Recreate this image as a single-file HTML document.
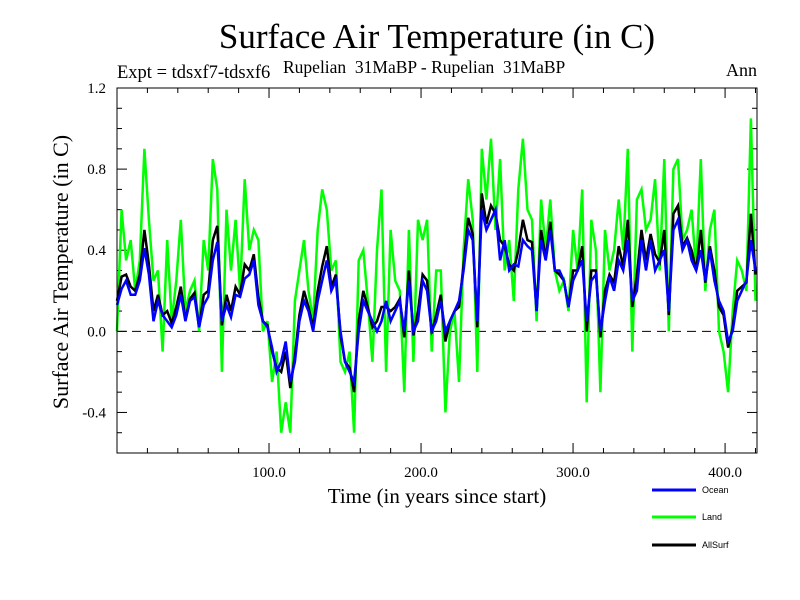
<!DOCTYPE html>
<html><head><meta charset="utf-8"><style>
body{margin:0;background:#fff}
svg{display:block}
text{font-family:"Liberation Serif",serif;fill:#000}
</style></head><body>
<svg id="chart" width="800" height="600" xmlns="http://www.w3.org/2000/svg">
<text x="437" y="48" font-size="35" text-anchor="middle">Surface Air Temperature (in C)</text>
<text x="117" y="78" font-size="18.5">Expt = tdsxf7-tdsxf6</text>
<text x="283" y="73" font-size="17.5" style="white-space:pre">Rupelian  31MaBP - Rupelian  31MaBP</text>
<text x="757" y="76" font-size="18" text-anchor="end">Ann</text>
<text x="437" y="503" font-size="21" text-anchor="middle">Time (in years since start)</text>
<text transform="translate(68,272) rotate(-90)" font-size="22" text-anchor="middle">Surface Air Temperature (in C)</text>
<g id="axes"></g>
<g id="series"></g>
<rect x="117" y="88" width="640" height="365" fill="none" stroke="#000" stroke-width="1"/>
<g>
<line x1="652" y1="490" x2="696" y2="490" stroke="#0000ff" stroke-width="3"/>
<text x="702" y="493" font-size="9" style="font-family:'Liberation Sans',sans-serif">Ocean</text>
<line x1="652" y1="517" x2="696" y2="517" stroke="#00ff00" stroke-width="3"/>
<text x="702" y="520" font-size="9" style="font-family:'Liberation Sans',sans-serif">Land</text>
<line x1="652" y1="545" x2="696" y2="545" stroke="#000" stroke-width="3"/>
<text x="702" y="548" font-size="9" style="font-family:'Liberation Sans',sans-serif">AllSurf</text>
</g>
</svg>
<script>
const years=[];for(let i=0;i<=140;i++)years.push(i*3);
const ocean=[0.13,0.21,0.25,0.18,0.18,0.25,0.41,0.28,0.05,0.15,0.08,0.05,0.02,0.08,0.18,0.05,0.15,0.17,0.02,0.13,0.17,0.35,0.44,0.05,0.13,0.07,0.18,0.17,0.26,0.28,0.35,0.13,0.05,0.02,-0.08,-0.2,-0.15,-0.05,-0.25,-0.15,0.05,0.15,0.1,0.0,0.15,0.25,0.35,0.2,0.25,0.0,-0.15,-0.2,-0.25,0.0,0.15,0.1,0.05,0.0,0.05,0.15,0.05,0.1,0.15,0.0,0.25,0.0,0.05,0.25,0.2,0.0,0.05,0.15,0.0,0.05,0.1,0.15,0.3,0.5,0.45,0.05,0.6,0.5,0.55,0.6,0.35,0.45,0.3,0.33,0.32,0.45,0.42,0.4,0.1,0.45,0.35,0.5,0.3,0.3,0.25,0.12,0.25,0.3,0.35,0.05,0.25,0.28,0.0,0.15,0.27,0.2,0.35,0.3,0.45,0.15,0.2,0.45,0.3,0.45,0.3,0.35,0.4,0.1,0.5,0.55,0.4,0.45,0.35,0.3,0.4,0.25,0.4,0.25,0.15,0.1,-0.05,0.0,0.15,0.2,0.25,0.45,0.3];
const land=[0.0,0.6,0.35,0.45,0.2,0.35,0.9,0.55,0.25,0.3,-0.1,0.45,0.05,0.25,0.55,0.1,0.2,0.25,0.0,0.45,0.3,0.85,0.7,-0.2,0.6,0.3,0.55,0.2,0.75,0.4,0.5,0.45,0.0,0.05,-0.25,-0.1,-0.5,-0.35,-0.5,0.15,0.3,0.45,0.2,0.05,0.5,0.7,0.6,0.3,0.35,-0.15,-0.2,-0.1,-0.5,0.35,0.4,0.15,-0.15,0.4,0.7,-0.2,0.5,0.25,0.2,-0.3,0.5,-0.15,0.55,0.45,0.55,-0.1,0.3,0.3,-0.4,0.0,0.1,-0.25,0.4,0.75,0.55,-0.2,0.9,0.65,0.95,0.5,0.85,0.3,0.45,0.15,0.7,0.95,0.6,0.55,0.05,0.65,0.4,0.65,0.3,0.2,0.25,0.1,0.5,0.3,0.7,-0.35,0.55,0.4,-0.3,0.5,0.3,0.4,0.65,0.4,0.9,-0.1,0.65,0.7,0.5,0.55,0.75,0.3,0.85,0.0,0.8,0.85,0.45,0.5,0.6,0.3,0.85,0.2,0.5,0.6,0.0,-0.1,-0.3,0.1,0.35,0.3,0.2,1.05,0.15];
const allsurf=[0.15,0.27,0.28,0.22,0.2,0.28,0.5,0.33,0.1,0.18,0.08,0.1,0.04,0.12,0.22,0.06,0.16,0.19,0.02,0.18,0.2,0.45,0.52,0.03,0.18,0.1,0.22,0.18,0.33,0.3,0.38,0.17,0.05,0.03,-0.1,-0.18,-0.2,-0.1,-0.28,-0.12,0.08,0.2,0.12,0.02,0.2,0.32,0.42,0.22,0.28,-0.02,-0.15,-0.18,-0.3,0.05,0.2,0.12,0.02,0.05,0.12,0.12,0.1,0.12,0.16,-0.03,0.3,-0.02,0.1,0.28,0.25,-0.01,0.08,0.18,-0.05,0.05,0.1,0.12,0.33,0.56,0.48,0.02,0.68,0.53,0.62,0.58,0.45,0.42,0.33,0.3,0.4,0.55,0.45,0.44,0.1,0.5,0.36,0.54,0.3,0.28,0.25,0.12,0.3,0.3,0.42,0.0,0.3,0.3,-0.03,0.2,0.28,0.24,0.42,0.32,0.55,0.12,0.28,0.5,0.35,0.48,0.38,0.34,0.5,0.08,0.58,0.62,0.42,0.46,0.4,0.3,0.5,0.24,0.42,0.3,0.12,0.08,-0.08,0.02,0.2,0.22,0.24,0.58,0.28];
const xTicks=[100,200,300,400];
const yTicks=[-0.4,0.0,0.4,0.8,1.2];
const NS="http://www.w3.org/2000/svg";
const X0=117,X1=757,Y0=88,Y1=453,xmin=0,xmax=421,ymin=-0.6,ymax=1.2;
const sx=v=>X0+(v-xmin)/(xmax-xmin)*(X1-X0);
const sy=v=>Y1-(v-ymin)/(ymax-ymin)*(Y1-Y0);
const axes=document.getElementById('axes'),ser=document.getElementById('series');
function mk(tag,at,parent){const e=document.createElementNS(NS,tag);for(const k in at)e.setAttribute(k,at[k]);parent.appendChild(e);return e;}
for(let v=-0.6;v<=1.2001;v+=0.1){const y=sy(v);const maj=Math.abs(Math.round(v*10)%4)==0;const L=maj?10:5;
const t1=mk('line',{x1:X0,y1:y,x2:X0+L,y2:y,stroke:'#000'},axes);


const t2=mk('line',{x1:X1,y1:y,x2:X1-L,y2:y,stroke:'#000'},axes);

}
for(let v=20;v<=420;v+=20){const x=sx(v);const L=(v%100==0)?10:5;
const t1=mk('line',{x1:x,y1:Y1,x2:x,y2:Y1-L,stroke:'#000'},axes);


const t2=mk('line',{x1:x,y1:Y0,x2:x,y2:Y0+L,stroke:'#000'},axes);

}
yTicks.forEach(v=>{const t=mk('text',{x:106,y:sy(v)+5,'font-size':15,'text-anchor':'end'},axes);t.textContent=v.toFixed(1);

});
xTicks.forEach(v=>{const t=mk('text',{x:sx(v),y:477,'font-size':15,'text-anchor':'middle'},axes);t.textContent=v.toFixed(1);

});
const zl=mk('line',{x1:X0,y1:sy(0),x2:X1,y2:sy(0),stroke:'#000','stroke-dasharray':'9,6'},axes);


function line(arr,col,w,name){const d=arr.map((v,i)=>(i?'L':'M')+sx(years[i]).toFixed(1)+','+sy(v).toFixed(1)).join('');
const p=mk('path',{d:d,fill:'none',stroke:col,'stroke-width':w,'stroke-linejoin':'miter'},ser);

}
line(land,'#00ff00',2.5,'land-series');
line(allsurf,'#000000',2.5,'allsurf-series');
line(ocean,'#0000ff',2.5,'ocean-series');
</script>
</body></html>
